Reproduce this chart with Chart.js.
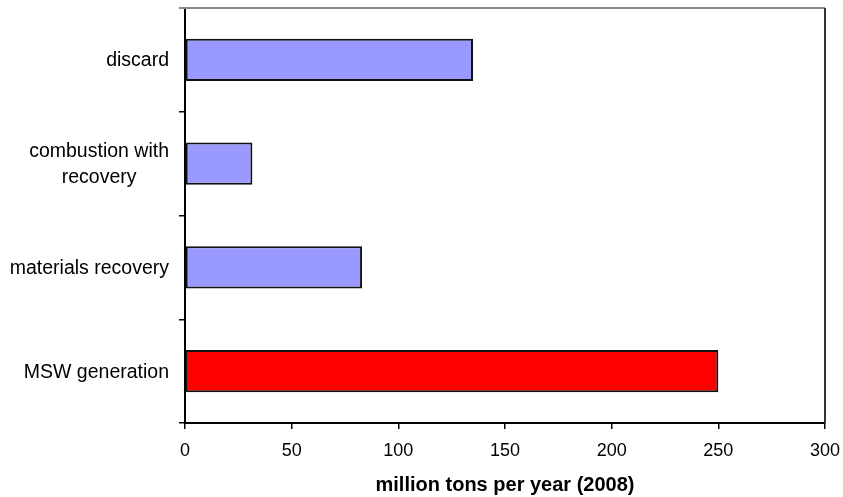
<!DOCTYPE html>
<html lang="en">
<head>
    <meta charset="UTF-8">
    <title>MSW 2008</title>
    <script src="https://cdn.jsdelivr.net/npm/chart.js"></script>
    <style>
        body {
            margin: 0;
            background-color: #fff;
        }
        .wrap {
            width: 843px;
            height: 497px;
        }
    </style>
</head>
<body>
    <div class="wrap"><canvas id="mswChart" width="843" height="497"></canvas></div>
    <script>
        // chart data
        const categories = ['discard', ['combustion with', 'recovery'], 'materials recovery', 'MSW generation'];
        const tonsValues = [135, 31.6, 83, 250];
        const barColors = ['#9999FF', '#9999FF', '#9999FF', '#FF0000'];
        const xTicks = [0, 50, 100, 150, 200, 250, 300];
        const xTitle = 'million tons per year (2008)';

        // category labels: right aligned block, lines centred inside it
        const categoryLabels = {
            id: 'categoryLabels',
            afterDraw(chart) {
                const ctx = chart.ctx;
                const yScale = chart.scales.y;
                const right = 169;
                const lineH = 26.5;
                ctx.save();
                ctx.font = '19.5px "Liberation Sans", Arial, sans-serif';
                ctx.fillStyle = '#000';
                ctx.textBaseline = 'middle';
                ctx.textAlign = 'center';
                categories.forEach((lab, i) => {
                    const lines = Array.isArray(lab) ? lab : [lab];
                    const w = Math.max(...lines.map(l => ctx.measureText(l).width));
                    const cx = right - w / 2;
                    const cy = yScale.getPixelForValue(i) + 1;
                    lines.forEach((l, j) => {
                        ctx.fillText(l, cx, cy + (j - (lines.length - 1) / 2) * lineH);
                    });
                });
                ctx.restore();
            }
        };

        // top and right frame lines
        const frame = {
            id: 'frame',
            afterDraw(chart) {
                const ctx = chart.ctx;
                const a = chart.chartArea;
                ctx.save();
                ctx.strokeStyle = '#888';
                ctx.lineWidth = 2;
                ctx.beginPath();
                ctx.moveTo(a.left - 6, a.top);
                ctx.lineTo(a.right, a.top);
                ctx.stroke();
                ctx.strokeStyle = '#333';
                ctx.beginPath();
                ctx.moveTo(a.right, a.top);
                ctx.lineTo(a.right, a.bottom);
                ctx.stroke();
                ctx.restore();
            }
        };

        const ctx = document.getElementById('mswChart').getContext('2d');
        new Chart(ctx, {
            type: 'bar',
            data: {
                labels: categories,
                datasets: [{
                    data: tonsValues,
                    backgroundColor: barColors,
                    borderColor: '#111',
                    borderWidth: 2,
                    borderSkipped: false,
                    barPercentage: 0.405,
                    categoryPercentage: 1
                }]
            },
            options: {
                indexAxis: 'y',
                responsive: false,
                animation: false,
                layout: {
                    padding: { top: 8, right: 18, left: 0, bottom: 0 }
                },
                plugins: {
                    legend: { display: false },
                    tooltip: { enabled: false }
                },
                scales: {
                    x: {
                        min: 0,
                        max: 300,
                        afterBuildTicks: (scale) => {
                            scale.ticks = xTicks.map(v => ({ value: v }));
                        },
                        afterFit: (scale) => {
                            scale.height = 74;
                            scale.paddingLeft = 0;
                            scale.paddingRight = 0;
                        },
                        border: { color: '#000', width: 2 },
                        grid: {
                            drawOnChartArea: false,
                            color: '#000',
                            lineWidth: 1.5,
                            tickLength: 6
                        },
                        ticks: {
                            color: '#000',
                            padding: 11,
                            maxRotation: 0,
                            font: { family: '"Liberation Sans", Arial, sans-serif', size: 18 }
                        },
                        title: {
                            display: true,
                            text: xTitle,
                            color: '#000',
                            padding: 0,
                            font: { family: '"Liberation Sans", Arial, sans-serif', size: 20, weight: 'bold' }
                        }
                    },
                    y: {
                        afterFit: (scale) => { scale.width = 185; },
                        border: { color: '#000', width: 2 },
                        grid: {
                            drawOnChartArea: false,
                            color: '#000',
                            lineWidth: 1.5,
                            tickLength: 6
                        },
                        ticks: { display: false }
                    }
                }
            },
            plugins: [categoryLabels, frame]
        });
    </script>
</body>
</html>
